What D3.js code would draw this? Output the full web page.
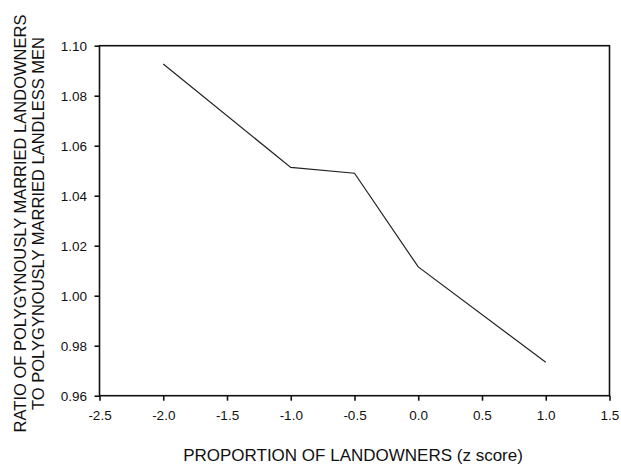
<!DOCTYPE html>
<html><head><meta charset="utf-8">
<script src="https://cdn.jsdelivr.net/npm/d3@7"></script>
<style>body{margin:0;background:#fff;} svg{display:block;} text{font-family:"Liberation Sans",Arial,sans-serif;fill:#111;}</style>
</head><body>
<script>
const xValues = [-2.0, -1.0, -0.5, 0.0, 1.0];
const yValues = [1.0927, 1.0513, 1.0490, 1.0115, 0.9734];
const xTicks = [-2.5, -2.0, -1.5, -1.0, -0.5, 0.0, 0.5, 1.0, 1.5];
const yTicks = [0.96, 0.98, 1.00, 1.02, 1.04, 1.06, 1.08, 1.10];
const xTitle = "PROPORTION OF LANDOWNERS (z score)";
const yTitle = ["RATIO OF POLYGYNOUSLY MARRIED LANDOWNERS", "TO POLYGYNOUSLY MARRIED LANDLESS MEN"];

const W = 621, H = 464;
const m = {left: 99.5, right: 609.5, top: 45.7, bottom: 395.7};
const svg = d3.select("body").append("svg").attr("width", W).attr("height", H);
const x = d3.scaleLinear().domain([-2.5, 1.5]).range([m.left, m.right]);
const y = d3.scaleLinear().domain([0.96, 1.10]).range([m.bottom, m.top]);

// frame
svg.append("rect").attr("x", m.left).attr("y", m.top)
  .attr("width", m.right - m.left).attr("height", m.bottom - m.top)
  .attr("fill", "none").attr("stroke", "#111").attr("stroke-width", 1.6);

const xa = svg.append("g").attr("transform", `translate(0,${m.bottom})`)
  .call(d3.axisBottom(x).tickValues(xTicks).tickFormat(d3.format(".1f")).tickSize(5).tickPadding(10));
const ya = svg.append("g").attr("transform", `translate(${m.left},0)`)
  .call(d3.axisLeft(y).tickValues(yTicks).tickFormat(d3.format(".2f")).tickSize(5).tickPadding(7.5));
[xa, ya].forEach(g => {
  g.select(".domain").remove();
  g.selectAll(".tick line").attr("stroke", "#111").attr("stroke-width", 1.6);
  g.selectAll(".tick text").style("font-family", '"Liberation Sans",Arial,sans-serif')
    .style("font-size", "13.5px").attr("fill", "#111");
});
xa.selectAll(".tick text").text(d => d3.format(".1f")(d).replace("−", "-"));
ya.selectAll(".tick text").attr("dy", "0.35em");

const line = d3.line().x((d, i) => x(xValues[i])).y(d => y(d));
svg.append("path").datum(yValues).attr("d", line)
  .attr("fill", "none").attr("stroke", "#222").attr("stroke-width", 1.2);

svg.append("text").attr("x", 353).attr("y", 460.5)
  .attr("text-anchor", "middle").style("font-size", "17px").text(xTitle);

const cy = 223.5;
yTitle.forEach((t, i) => {
  svg.append("text").attr("transform", `translate(${25.5 + i * 18},${cy}) rotate(-90)`)
    .attr("text-anchor", "middle").style("font-size", "16.5px").text(t);
});
</script>
</body></html>
